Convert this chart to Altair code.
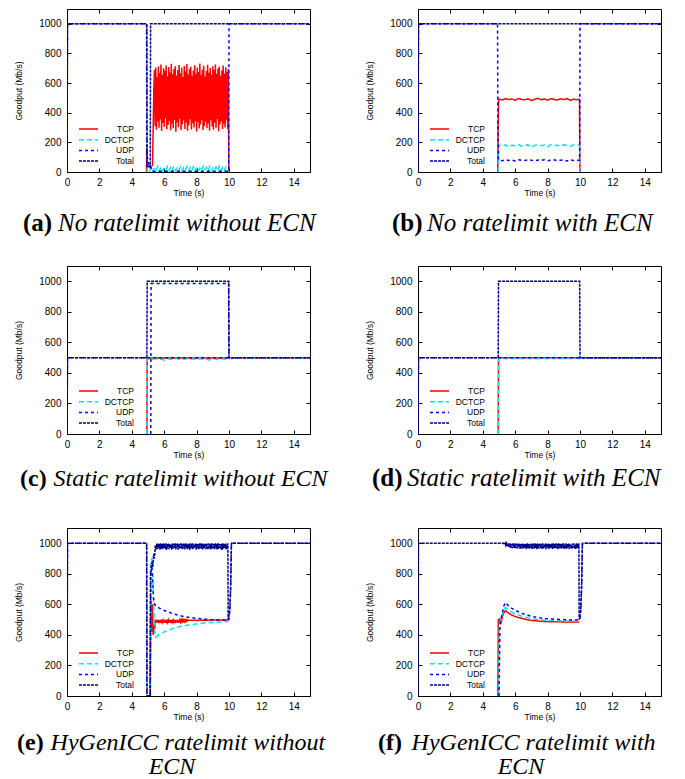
import altair as alt
import pandas as pd

SANS = "Liberation Sans"
SERIF = "Liberation Serif"

SERIES = ["TCP", "DCTCP", "UDP", "Total"]
COLORS = ["#ff0000", "#00e5ee", "#0000ff", "#00008b"]
DASHES = [[1, 0], [5, 3], [3, 3], [3, 1]]
X_TICKS = [0, 2, 4, 6, 8, 10, 12, 14]
Y_TICKS = [0, 200, 400, 600, 800, 1000]
X_TITLE = "Time (s)"
Y_TITLE = "Goodput (Mb/s)"
CAP_TAGS = ["(a)", "(b)", "(c)", "(d)", "(e)", "(f)"]
CAP_TEXT = [
    ["No ratelimit without ECN"],
    ["No ratelimit with ECN"],
    ["Static ratelimit without ECN"],
    ["Static ratelimit with ECN"],
    ["HyGenICC ratelimit without", "ECN"],
    ["HyGenICC ratelimit with", "ECN"],
]

# ---------------- (a) No ratelimit without ECN ----------------
A_TCP_T = [4.91, 4.92, 4.95, 5.00, 5.05, 5.10, 5.15, 5.28, 5.32, 5.36]
A_TCP_V = [0, 165, 45, 40, 38, 42, 40, 45, 300, 560]
A_TCP_NOISE_START, A_TCP_NOISE_STEP = 5.40, 0.04
A_TCP_NOISE = [
    690, 310, 705, 285, 640, 342, 712, 298, 668, 355,
    725, 276, 655, 330, 700, 305, 683, 362, 718, 289,
    646, 318, 709, 344, 672, 281, 731, 327, 660, 296,
    695, 351, 714, 272, 652, 336, 688, 302, 722, 359,
    667, 284, 703, 323, 641, 347, 716, 291, 679, 334,
    728, 278, 658, 315, 697, 356, 710, 287, 649, 329,
    685, 300, 720, 345, 663, 274, 706, 338, 674, 293,
    733, 321, 655, 353, 692, 283, 717, 311, 645, 340,
    681, 295, 724, 328, 669, 279, 701, 349, 657, 307,
    713, 286, 688, 332, 726, 299, 662, 357, 698, 275,
    711, 320, 650, 343, 686, 290, 719, 326, 664, 301,
    707, 350, 676, 288, 695,
]
A_TCP_END_T, A_TCP_END_V = [9.99], [0]

A_DCTCP_T, A_DCTCP_V = [4.94, 4.96], [0, 20]
A_DCTCP_NOISE_START, A_DCTCP_NOISE_STEP = 5.0, 0.1
A_DCTCP_NOISE = [
    30, 8, 35, 5, 28, 12, 38, 6, 33, 10,
    25, 4, 36, 9, 31, 7, 39, 11, 27, 5,
    34, 8, 30, 13, 37, 6, 29, 9, 35, 4,
    32, 10, 26, 7, 38, 12, 31, 5, 36, 8,
    28, 11, 34, 6, 39, 9, 30, 7, 33, 10,
]
A_DCTCP_END_T, A_DCTCP_END_V = [9.99], [0]

A_UDP_T = [0, 0.03, 4.91, 4.93, 4.97, 5.03, 5.06, 5.20, 5.25, 9.98, 10.0, 15]
A_UDP_V = [0, 1000, 1000, 165, 90, 85, 32, 30, 5, 5, 1000, 1000]
A_TOTAL_T = [0, 0.03, 4.93, 4.94, 5.14, 5.16, 15]
A_TOTAL_V = [0, 1000, 1000, 35, 35, 1000, 1000]

# ---------------- (b) No ratelimit with ECN ----------------
B_NOISE_START, B_NOISE_STEP = 5.0, 0.2
B_TCP_T, B_TCP_V = [4.92, 4.95, 4.98], [0, 320, 490]
B_TCP_NOISE = [492, 486, 495, 489, 493, 484, 496, 490, 487, 494, 482, 491, 497,
               488, 493, 485, 495, 490, 486, 494, 489, 496, 483, 492, 488]
B_TCP_END_T, B_TCP_END_V = [9.97, 9.99], [490, 0]
B_DCTCP_T, B_DCTCP_V = [4.95, 4.98], [0, 180]
B_DCTCP_NOISE = [182, 176, 184, 168, 181, 178, 185, 174, 180, 183, 166, 179, 184,
                 177, 182, 170, 185, 178, 181, 175, 183, 179, 172, 184, 180]
B_DCTCP_END_T, B_DCTCP_END_V = [9.97, 9.99], [180, 0]
B_UDP_T, B_UDP_V = [0, 0.03, 4.91, 4.93, 4.97], [0, 1000, 1000, 320, 80]
B_UDP_NOISE = [80, 76, 82, 78, 81, 75, 83, 79, 77, 82, 80, 74, 81,
               78, 83, 76, 80, 82, 77, 79, 81, 75, 82, 78, 80]
B_UDP_END_T, B_UDP_END_V = [9.98, 10.0, 15], [80, 1000, 1000]
B_TOTAL_T, B_TOTAL_V = [0, 0.03, 15], [0, 1000, 1000]

# ---------------- (c) Static ratelimit without ECN ----------------
C_TCP_T = [4.93, 4.95, 5.0, 9.98, 10.0, 15]
C_TCP_V = [0, 500, 497, 497, 500, 500]
C_DCTCP_T, C_DCTCP_V = [4.93, 4.95], [0, 490]
C_NOISE_START, C_NOISE_STEP = 5.0, 0.2
C_DCTCP_NOISE = [492, 486, 494, 488, 491, 484, 493, 489, 487, 495, 485, 490, 493,
                 487, 492, 486, 494, 488, 490, 485, 493, 489, 486, 492, 488]
C_DCTCP_END_T, C_DCTCP_END_V = [9.97, 10.0, 15], [490, 500, 500]
C_UDP_T, C_UDP_V = [0, 0.03, 15], [0, 500, 500]
C_UDP2_T, C_UDP2_V = [5.17, 5.19, 9.98, 10.0], [0, 985, 985, 500]
C_TOTAL_T = [0, 0.03, 4.93, 4.95, 9.98, 10.0, 15]
C_TOTAL_V = [0, 500, 500, 1000, 1000, 500, 500]

# ---------------- (d) Static ratelimit with ECN ----------------
D_TCP_T, D_TCP_V = [4.95, 4.97, 15], [0, 500, 500]
D_DCTCP_T, D_DCTCP_V = [4.96, 4.98, 9.98, 10.0, 15], [0, 495, 495, 500, 500]
D_UDP_T, D_UDP_V = [0, 0.03, 15], [0, 500, 500]
D_TOTAL_T = [0, 0.03, 4.95, 4.97, 9.98, 10.0, 15]
D_TOTAL_V = [0, 500, 500, 1000, 1000, 500, 500]

# ---------------- (e) HyGenICC ratelimit without ECN ----------------
E_TCP_T = [5.13, 5.17, 5.22, 5.27, 5.32, 5.37, 5.41]
E_TCP_V = [0, 630, 420, 600, 400, 470, 440]
E_TCP_NOISE_START, E_TCP_NOISE_STEP = 5.45, 0.04
E_TCP_NOISE = [
    500, 479, 498, 482, 500, 477, 497, 481, 499, 478,
    500, 483, 496, 479, 499, 480, 498, 477, 500, 482,
    497, 479, 499, 481, 498, 478, 500, 483, 496, 480,
    499, 477, 498, 482, 500, 479, 497, 481, 499, 484,
    498, 486, 500, 488, 497, 487, 499, 489, 498, 490,
    497,
]
E_TCP_END_T, E_TCP_END_V = [8.0, 9.0, 9.95], [495, 497, 497]
E_DCTCP_T = [5.15, 5.18, 5.24, 5.30, 5.36, 5.42, 5.48, 5.6, 5.8, 6.0, 6.5,
             7.0, 7.5, 8.0, 8.5, 9.0, 9.5, 9.95]
E_DCTCP_V = [0, 880, 900, 760, 560, 420, 385, 395, 410, 420, 440,
             455, 465, 472, 478, 482, 485, 487]
E_UDP_T = [0, 0.03, 4.91, 4.93, 5.14, 5.16, 5.22, 5.28, 5.34, 5.40, 5.5, 5.7, 6.0,
           6.5, 7.0, 7.5, 8.0, 8.5, 9.0, 9.5, 9.95, 10.0, 10.05, 10.1, 10.15, 15]
E_UDP_V = [0, 1000, 1000, 0, 0, 820, 860, 780, 640, 600, 590, 575, 560,
           540, 525, 515, 508, 503, 500, 498, 497, 500, 570, 700, 1000, 1000]
E_TOTAL_T = [0, 0.03, 4.92, 4.94, 5.14, 5.16, 5.2, 5.25, 5.3, 5.35, 5.4, 5.45, 5.5]
E_TOTAL_V = [0, 1000, 1000, 0, 0, 790, 830, 880, 845, 930, 900, 985, 960]
E_TOTAL_NOISE_START, E_TOTAL_NOISE_STEP = 5.54, 0.04
E_TOTAL_NOISE = [
    998, 962, 1000, 968, 996, 958, 999, 965, 994, 960,
    1000, 970, 997, 963, 999, 957, 995, 966, 1000, 961,
    998, 969, 993, 959, 1000, 964, 997, 971, 999, 960,
    996, 967, 1000, 958, 994, 963, 998, 970, 1000, 961,
    995, 966, 999, 959, 997, 968, 1000, 962, 993, 965,
    998, 957, 1000, 969, 996, 960, 999, 964, 994, 971,
    1000, 958, 997, 966, 995, 961, 999, 968, 1000, 963,
    996, 959, 998, 970, 993, 962, 1000, 965, 997, 958,
    999, 967, 995, 960, 1000, 964, 998, 969, 994, 961,
    999, 966, 996, 959, 1000, 963, 997, 970, 995, 962,
    998, 957, 1000, 965, 996, 968, 999, 960, 994, 964,
]
E_TOTAL_END_T = [9.93, 9.95, 10.05, 10.1, 10.15, 15]
E_TOTAL_END_V = [1000, 500, 560, 700, 1000, 1000]

# ---------------- (f) HyGenICC ratelimit with ECN ----------------
F_TCP_T = [4.93, 4.96, 5.05, 5.1, 5.15, 5.2, 5.3, 5.4, 5.5, 5.7, 6.0, 6.5,
           7.0, 7.5, 8.0, 9.0, 9.95]
F_TCP_V = [0, 500, 505, 470, 490, 520, 545, 560, 550, 535, 520, 505,
           495, 490, 487, 485, 485]
F_DCTCP_T = [4.97, 5.02, 5.1, 5.2, 5.3, 5.4, 5.5, 5.7, 6.0, 6.5, 7.0, 7.5,
             8.0, 9.0, 9.95]
F_DCTCP_V = [0, 470, 490, 530, 565, 580, 572, 555, 538, 520, 508, 500,
             495, 492, 490]
F_UDP_T = [5.0, 5.06, 5.12, 5.2, 5.3, 5.4, 5.5, 5.7, 6.0, 6.5, 7.0, 7.5, 8.0,
           9.0, 9.95, 10.0, 10.05, 10.1, 10.15, 15]
F_UDP_V = [0, 470, 500, 540, 590, 612, 600, 580, 560, 538, 522, 512, 505,
           500, 497, 500, 580, 720, 1000, 1000]
F_TOTAL_T, F_TOTAL_V = [0, 0.03, 5.28], [0, 1000, 1000]
F_TOTAL_NOISE_START, F_TOTAL_NOISE_STEP = 5.30, 0.04
F_TOTAL_NOISE = [
    998, 992, 1000, 986, 999, 981, 997, 977, 1000, 974,
    998, 970, 996, 968, 1000, 972, 997, 965, 999, 969,
    995, 966, 1000, 971, 998, 963, 996, 968, 1000, 964,
    997, 970, 994, 966, 999, 962, 1000, 969, 996, 965,
    998, 971, 995, 963, 1000, 967, 997, 964, 999, 970,
    996, 962, 1000, 968, 994, 965, 998, 971, 997, 963,
    1000, 966, 995, 969, 999, 962, 996, 970, 1000, 964,
    997, 967, 994, 971, 998, 963, 1000, 968, 995, 965,
    999, 970, 996, 962, 1000, 966, 997, 969, 994, 964,
    998, 971, 1000, 963, 995, 967, 999, 965, 996, 970,
    1000, 962, 997, 968, 994, 964, 998, 971, 1000, 966,
    995, 963, 999, 969, 996, 965,
]
F_TOTAL_END_T = [9.93, 9.95, 10.05, 10.1, 10.15, 15]
F_TOTAL_END_V = [1000, 500, 560, 720, 1000, 1000]


def samples(start, step, values):
    return [round(start + i * step, 4) for i in range(len(values))]


def piece(*parts):
    ts, vs = [], []
    for t, v in parts:
        ts += list(t)
        vs += list(v)
    return ts, vs


PANELS = [
    {  # (a)
        "TCP": [piece((A_TCP_T, A_TCP_V),
                      (samples(A_TCP_NOISE_START, A_TCP_NOISE_STEP, A_TCP_NOISE), A_TCP_NOISE),
                      (A_TCP_END_T, A_TCP_END_V))],
        "DCTCP": [piece((A_DCTCP_T, A_DCTCP_V),
                        (samples(A_DCTCP_NOISE_START, A_DCTCP_NOISE_STEP, A_DCTCP_NOISE), A_DCTCP_NOISE),
                        (A_DCTCP_END_T, A_DCTCP_END_V))],
        "UDP": [piece((A_UDP_T, A_UDP_V))],
        "Total": [piece((A_TOTAL_T, A_TOTAL_V))],
    },
    {  # (b)
        "TCP": [piece((B_TCP_T, B_TCP_V),
                      (samples(B_NOISE_START, B_NOISE_STEP, B_TCP_NOISE), B_TCP_NOISE),
                      (B_TCP_END_T, B_TCP_END_V))],
        "DCTCP": [piece((B_DCTCP_T, B_DCTCP_V),
                        (samples(B_NOISE_START, B_NOISE_STEP, B_DCTCP_NOISE), B_DCTCP_NOISE),
                        (B_DCTCP_END_T, B_DCTCP_END_V))],
        "UDP": [piece((B_UDP_T, B_UDP_V),
                      (samples(B_NOISE_START, B_NOISE_STEP, B_UDP_NOISE), B_UDP_NOISE),
                      (B_UDP_END_T, B_UDP_END_V))],
        "Total": [piece((B_TOTAL_T, B_TOTAL_V))],
    },
    {  # (c)
        "TCP": [piece((C_TCP_T, C_TCP_V))],
        "DCTCP": [piece((C_DCTCP_T, C_DCTCP_V),
                        (samples(C_NOISE_START, C_NOISE_STEP, C_DCTCP_NOISE), C_DCTCP_NOISE),
                        (C_DCTCP_END_T, C_DCTCP_END_V))],
        "UDP": [piece((C_UDP_T, C_UDP_V)), piece((C_UDP2_T, C_UDP2_V))],
        "Total": [piece((C_TOTAL_T, C_TOTAL_V))],
    },
    {  # (d)
        "TCP": [piece((D_TCP_T, D_TCP_V))],
        "DCTCP": [piece((D_DCTCP_T, D_DCTCP_V))],
        "UDP": [piece((D_UDP_T, D_UDP_V))],
        "Total": [piece((D_TOTAL_T, D_TOTAL_V))],
    },
    {  # (e)
        "TCP": [piece((E_TCP_T, E_TCP_V),
                      (samples(E_TCP_NOISE_START, E_TCP_NOISE_STEP, E_TCP_NOISE), E_TCP_NOISE),
                      (E_TCP_END_T, E_TCP_END_V))],
        "DCTCP": [piece((E_DCTCP_T, E_DCTCP_V))],
        "UDP": [piece((E_UDP_T, E_UDP_V))],
        "Total": [piece((E_TOTAL_T, E_TOTAL_V),
                        (samples(E_TOTAL_NOISE_START, E_TOTAL_NOISE_STEP, E_TOTAL_NOISE), E_TOTAL_NOISE),
                        (E_TOTAL_END_T, E_TOTAL_END_V))],
    },
    {  # (f)
        "TCP": [piece((F_TCP_T, F_TCP_V))],
        "DCTCP": [piece((F_DCTCP_T, F_DCTCP_V))],
        "UDP": [piece((F_UDP_T, F_UDP_V))],
        "Total": [piece((F_TOTAL_T, F_TOTAL_V),
                        (samples(F_TOTAL_NOISE_START, F_TOTAL_NOISE_STEP, F_TOTAL_NOISE), F_TOTAL_NOISE),
                        (F_TOTAL_END_T, F_TOTAL_END_V))],
    },
]


def to_df(panel):
    rows = []
    k = 0
    for s in SERIES:
        for j, (ts, vs) in enumerate(panel[s]):
            for t, v in zip(ts, vs):
                rows.append({"s": s, "p": f"{s}-{j}", "i": k, "t": t, "v": v})
                k += 1
    return pd.DataFrame(rows)


W = 243
XS = alt.Scale(domain=[0, 15], nice=False, zero=False)
YS = alt.Scale(domain=[0, 1100], nice=False, zero=False)


def tick_axis(orient, values):
    return alt.Axis(orient=orient, offset=-4, ticks=True, tickSize=4, tickWidth=1,
                    tickColor="black", labels=False, domain=False, grid=False,
                    title=None, values=values)


def make_panel(idx, h, legend_y, cap_dx, cap_y, line2_dx, widths, fs):
    df = to_df(PANELS[idx])
    leg = alt.Legend(title=None, orient="none", legendX=11, legendY=legend_y)
    main = alt.Chart(df).mark_line(clip=True).encode(
        x=alt.X("t:Q", scale=XS,
                axis=alt.Axis(values=X_TICKS, title=X_TITLE, labelPadding=5,
                              titlePadding=1, labelFlush=False)),
        y=alt.Y("v:Q", scale=YS,
                axis=alt.Axis(values=Y_TICKS, title=Y_TITLE, labelPadding=6,
                              titlePadding=15, labelFlush=False, format="d")),
        color=alt.Color("s:N", scale=alt.Scale(domain=SERIES, range=COLORS), legend=leg),
        strokeDash=alt.StrokeDash("s:N", scale=alt.Scale(domain=SERIES, range=DASHES), legend=leg),
        strokeWidth=alt.StrokeWidth("s:N", scale=alt.Scale(domain=SERIES, range=widths),
                                    legend=None),
        detail="p:N",
        order="i:Q",
    )
    tk = pd.DataFrame({"t": [0.0], "v": [0.0]})
    inner = alt.Chart(tk).mark_point(opacity=0).encode(
        x=alt.X("t:Q", scale=XS, axis=tick_axis("bottom", X_TICKS)),
        y=alt.Y("v:Q", scale=YS, axis=tick_axis("left", Y_TICKS)),
    )
    outer = alt.Chart(tk).mark_point(opacity=0).encode(
        x=alt.X("t:Q", scale=XS, axis=tick_axis("top", X_TICKS)),
        y=alt.Y("v:Q", scale=YS, axis=tick_axis("right", Y_TICKS)),
    )
    lines = CAP_TEXT[idx]
    cap = pd.DataFrame({"tag": [CAP_TAGS[idx]], "txt": [lines[0]]})
    tag_mark = alt.Chart(cap).mark_text(
        font=SERIF, fontSize=fs, fontWeight="bold", align="left",
        baseline="alphabetic", color="black").encode(
        x=alt.value(cap_dx), y=alt.value(cap_y), text="tag:N")
    txt_mark = alt.Chart(cap).mark_text(
        font=SERIF, fontSize=fs, fontStyle="italic", align="left",
        baseline="alphabetic", color="black").encode(
        x=alt.value(cap_dx + 1.4 * fs), y=alt.value(cap_y), text="txt:N")
    layers = [main, inner, outer, tag_mark, txt_mark]
    if len(lines) > 1:
        cap2 = pd.DataFrame({"txt": [lines[1]]})
        layers.append(alt.Chart(cap2).mark_text(
            font=SERIF, fontSize=fs, fontStyle="italic", align="center",
            baseline="alphabetic", color="black").encode(
            x=alt.value(line2_dx), y=alt.value(cap_y + 24), text="txt:N"))
    return alt.layer(*layers).resolve_axis(x="independent", y="independent").properties(
        width=W, height=h)


THIN = [1.5, 1.5, 1.5, 2.5]
THICK = [2.5, 2.5, 2.5, 2.5]

pa = make_panel(0, 163, 115, -44, 222, 0, THIN, 25)
pb = make_panel(1, 163, 115, -26, 222, 0, THIN, 25)
pc = make_panel(2, 168, 120, -47, 220, 0, THIN, 24)
pd_ = make_panel(3, 168, 120, -46, 220, 0, THIN, 25)
pe = make_panel(4, 168, 120, -50, 222, 105, THICK, 24)
pf = make_panel(5, 168, 120, -40, 222, 103, THICK, 24)

chart = alt.concat(
    pa, pb, pc, pd_, pe, pf, columns=2,
    spacing={"row": 94, "column": 108}, bounds="flush",
).resolve_legend(
    color="independent", strokeDash="independent", strokeWidth="independent"
).properties(
    padding={"left": 6, "top": 0, "right": 5, "bottom": 4}
).configure_view(stroke="black", strokeWidth=1).configure_axis(
    labelFont=SANS, labelFontSize=10, labelColor="black",
    titleFont=SANS, titleFontSize=8.5, titleFontWeight="normal", titleColor="black",
    grid=False, domain=False, ticks=False,
).configure_legend(
    symbolType="stroke", symbolSize=361, symbolStrokeWidth=1.5,
    labelFont=SANS, labelFontSize=8.5, labelColor="black",
    labelAlign="right", labelOffset=35, rowPadding=0.7, padding=0,
    clipHeight=10,
)

chart.save("out.html", embed_options={"renderer": "svg", "actions": False})
